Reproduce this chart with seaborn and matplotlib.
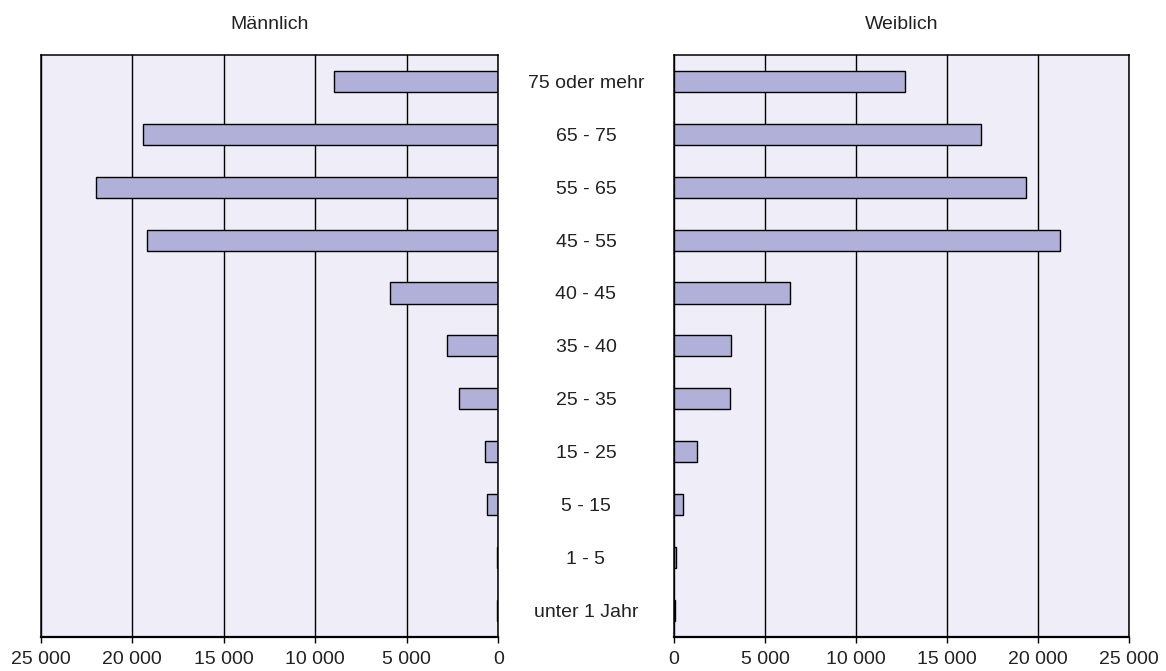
import matplotlib
matplotlib.use('Agg')
import matplotlib.pyplot as plt
import seaborn as sns
import pandas as pd

# Data
age_groups = ['75 oder mehr', '65 - 75', '55 - 65', '45 - 55', '40 - 45', '35 - 40',
              '25 - 35', '15 - 25', '5 - 15', '1 - 5', 'unter 1 Jahr']
male = [9000, 19400, 22000, 19200, 5900, 2800, 2150, 750, 600, 100, 80]
female = [12700, 16850, 19350, 21200, 6350, 3150, 3100, 1250, 500, 90, 70]
xticks = [0, 5000, 10000, 15000, 20000, 25000]
titles = ['Männlich', 'Weiblich']

bar_color = '#b0b0d8'
bg_color = '#efeef8'
text_color = '#222222'

sns.set_style('white')
plt.rcParams['font.family'] = ['Liberation Sans', 'DejaVu Sans']
plt.rcParams['text.color'] = text_color
plt.rcParams['xtick.color'] = text_color

df_m = pd.DataFrame({'group': age_groups, 'value': male})
df_f = pd.DataFrame({'group': age_groups, 'value': female})

fig = plt.figure(figsize=(11.66, 6.71), dpi=100)
ax_l = fig.add_axes([0.0349, 0.0511, 0.3926, 0.8669])
ax_r = fig.add_axes([0.5780, 0.0511, 0.3902, 0.8669])

def fmt(v, pos=None):
    return f'{int(v):,}'.replace(',', ' ')

for ax, df, title in [(ax_l, df_m, titles[0]), (ax_r, df_f, titles[1])]:
    ax.set_facecolor(bg_color)
    ax.set_axisbelow(True)
    sns.barplot(data=df, x='value', y='group', order=age_groups, orient='h',
                color=bar_color, saturation=1, width=0.4,
                edgecolor='black', linewidth=1.0, ax=ax)
    ax.grid(axis='x', color='black', linewidth=1.0)
    ax.grid(axis='y', visible=False)
    ax.set_xticks(xticks)
    ax.xaxis.set_major_formatter(plt.FuncFormatter(fmt))
    ax.tick_params(axis='x', length=4.5, width=1.0, pad=6, labelsize=14,
                   bottom=True, colors='black', labelcolor=text_color)
    ax.set_xlabel('')
    ax.set_ylabel('')
    for s in ax.spines.values():
        s.set_visible(True)
        s.set_color('black')
        s.set_linewidth(1.1)
    ax.spines['bottom'].set_linewidth(1.6)
    ax.set_ylim(len(age_groups) - 0.5, -0.5)
    ax.set_title(title, fontsize=14, pad=19, color=text_color)

ax_l.set_xlim(25000, 0)
ax_r.set_xlim(0, 25000)

# category labels centered in the gap between the panels
ax_l.yaxis.tick_right()
ax_l.tick_params(axis='y', length=0, pad=63, labelsize=14, labelcolor=text_color)
for lbl in ax_l.get_yticklabels():
    lbl.set_ha('center')
ax_r.set_yticks([])

fig.savefig('out.png', dpi=100)
